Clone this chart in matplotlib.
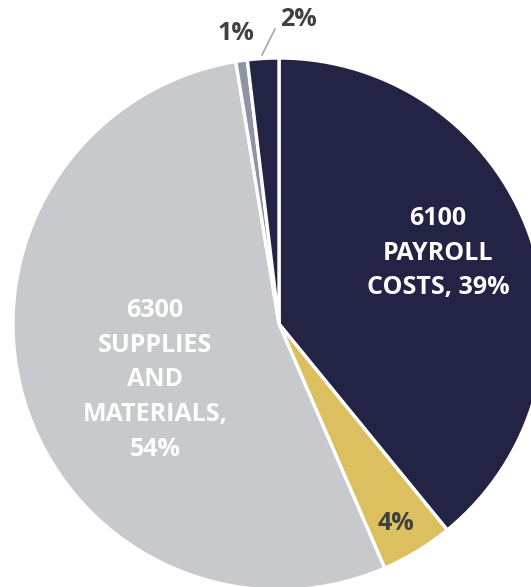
import matplotlib
matplotlib.use("Agg")
import matplotlib.pyplot as plt

categories = ["6100 PAYROLL COSTS", "OTHER A", "6300 SUPPLIES AND MATERIALS", "OTHER B", "OTHER C"]
values = [39.1, 4.4, 53.9, 0.7, 1.9]
pct_labels = ["39%", "4%", "54%", "1%", "2%"]
colors = ["#232345", "#DCBF5F", "#C8C9CD", "#8D94A4", "#232345"]

W, H = 531, 587
fig = plt.figure(figsize=(W / 100, H / 100), dpi=100)
ax = fig.add_axes([0, 0, 1, 1])

cx, cy, r = 279, H - 324, 266
ax.pie(values, colors=colors, startangle=90, counterclock=False,
       center=(cx, cy), radius=r, frame=True,
       wedgeprops=dict(edgecolor="white", linewidth=2.4))
ax.set_xlim(0, W)
ax.set_ylim(0, H)
ax.axis("off")

fam = ["Open Sans", "DejaVu Sans"]
tk = dict(ha="center", va="center", fontweight="bold", family=fam, fontsize=18, linespacing=1.52)
ax.text(438, H - 253, "6100\nPAYROLL\nCOSTS, " + pct_labels[0], color="white", **tk)
ax.text(155, H - 380, "6300\nSUPPLIES\nAND\nMATERIALS,\n" + pct_labels[2], color="white", **tk)
ax.text(396, H - 523, pct_labels[1], color="#404040", **tk)
ax.text(236, H - 33, pct_labels[3], color="#404040", **tk)
ax.text(298, H - 20, pct_labels[4], color="#404040", **tk)
ax.plot([262, 275], [H - 55, H - 29], color="#A6A6A6", linewidth=1.2)

fig.savefig("out.png", dpi=100)
